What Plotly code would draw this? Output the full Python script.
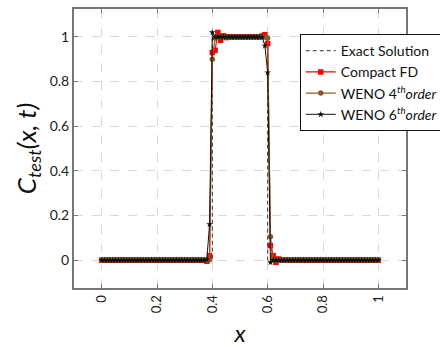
import plotly.graph_objects as go

x_grid = [round(i * 0.01, 2) for i in range(101)]

exact_x = [0.0, 0.4, 0.4, 0.6, 0.6, 1.0]
exact_y = [0.0, 0.0, 1.0, 1.0, 0.0, 0.0]

compact_fd = [
    0, 0, 0, 0, 0, 0, 0, 0, 0, 0,
    0, 0, 0, 0, 0, 0, 0, 0, 0, 0,
    0, 0, 0, 0, 0, 0, 0, 0, 0, 0,
    0, 0, 0, 0, 0, 0, 0, 0.0, -0.005, 0.02,
    0.93, 0.94, 1.02, 0.985, 1.005, 0.997, 1.0, 1.0, 1.0, 1.0,
    1.0, 1.0, 1.0, 1.0, 1.0, 1.0, 1.0, 1.0, 1.004, 1.01,
    0.97, 0.065, 0.02, -0.01, 0.005, 0, 0, 0, 0, 0,
    0, 0, 0, 0, 0, 0, 0, 0, 0, 0,
    0, 0, 0, 0, 0, 0, 0, 0, 0, 0,
    0, 0, 0, 0, 0, 0, 0, 0, 0, 0,
    0,
]

weno4 = [
    0, 0, 0, 0, 0, 0, 0, 0, 0, 0,
    0, 0, 0, 0, 0, 0, 0, 0, 0, 0,
    0, 0, 0, 0, 0, 0, 0, 0, 0, 0,
    0, 0, 0, 0, 0, 0, 0, 0, 0, 0.002,
    0.9, 0.995, 1.0, 1.0, 1.0, 1.0, 1.0, 1.0, 1.0, 1.0,
    1.0, 1.0, 1.0, 1.0, 1.0, 1.0, 1.0, 1.0, 1.0, 1.0,
    0.995, 0.105, 0.0, 0, 0, 0, 0, 0, 0, 0,
    0, 0, 0, 0, 0, 0, 0, 0, 0, 0,
    0, 0, 0, 0, 0, 0, 0, 0, 0, 0,
    0, 0, 0, 0, 0, 0, 0, 0, 0, 0,
    0,
]

weno6 = [
    0, 0, 0, 0, 0, 0, 0, 0, 0, 0,
    0, 0, 0, 0, 0, 0, 0, 0, 0, 0,
    0, 0, 0, 0, 0, 0, 0, 0, 0, 0,
    0, 0, 0, 0, 0, 0, 0, 0, 0.002, 0.16,
    1.02, 1.0, 1.0, 1.0, 1.0, 1.0, 1.0, 1.0, 1.0, 1.0,
    1.0, 1.0, 1.0, 1.0, 1.0, 1.0, 1.0, 1.0, 1.0, 0.96,
    0.84, -0.01, 0.0, 0, 0, 0, 0, 0, 0, 0,
    0, 0, 0, 0, 0, 0, 0, 0, 0, 0,
    0, 0, 0, 0, 0, 0, 0, 0, 0, 0,
    0, 0, 0, 0, 0, 0, 0, 0, 0, 0,
    0,
]

tick_vals = [0, 0.2, 0.4, 0.6, 0.8, 1]
tick_text = ["0", "0.2", "0.4", "0.6", "0.8", "1"]

FONT = "Lato"

fig = go.Figure()
fig.add_trace(go.Scatter(
    x=exact_x, y=exact_y, mode="lines", name="Exact Solution",
    line=dict(color="#333333", width=1, dash="4px,3px"),
))
fig.add_trace(go.Scatter(
    x=x_grid, y=compact_fd, mode="lines+markers", name="Compact FD",
    line=dict(color="#ff0000", width=1.2),
    marker=dict(symbol="square", size=5.5, color="#ff0000"),
))
fig.add_trace(go.Scatter(
    x=x_grid, y=weno4, mode="lines+markers",
    name="WENO 4<sup><i>th</i></sup><i>order</i>",
    line=dict(color="#8b5a2b", width=1.2),
    marker=dict(symbol="circle", size=5.5, color="#8b5a2b"),
))
fig.add_trace(go.Scatter(
    x=x_grid, y=weno6, mode="lines+markers",
    name="WENO 6<sup><i>th</i></sup><i>order</i>",
    line=dict(color="#111111", width=1),
    marker=dict(symbol="star", size=5, color="#111111"),
))

axis_common = dict(
    showgrid=True, gridcolor="#d9d9d9", griddash="dash", gridwidth=1,
    showline=True, linecolor="#777777", linewidth=2, mirror="ticks",
    ticks="inside", ticklen=4, tickcolor="#777777",
    zeroline=False,
)

fig.update_layout(
    width=440, height=347,
    margin=dict(l=74, r=34, t=9, b=59, autoexpand=False),
    paper_bgcolor="white", plot_bgcolor="white",
    font=dict(family=FONT, color="#111111"),
    xaxis=dict(
        range=[-0.1, 1.1], tickvals=tick_vals, ticktext=tick_text,
        tickangle=-90, tickfont=dict(size=13, color="#222222", family=FONT),
        title=dict(text="<i>x</i>", font=dict(size=24, family=FONT), standoff=21),
        **axis_common,
    ),
    yaxis=dict(
        range=[-0.125, 1.125], tickvals=tick_vals, ticktext=tick_text,
        tickfont=dict(size=14, color="#222222", family=FONT),
        title=dict(text="<i>C<sub>test</sub>(x, t)</i>", font=dict(size=26, family=FONT), standoff=6),
        **axis_common,
    ),
    legend=dict(
        x=0.68, y=0.91, xanchor="left", yanchor="top",
        bgcolor="white", bordercolor="#111111", borderwidth=1,
        font=dict(size=14, family=FONT, color="#111111"),
        itemwidth=30, tracegroupgap=0,
    ),
    showlegend=True,
)

fig.write_html("out.html")
